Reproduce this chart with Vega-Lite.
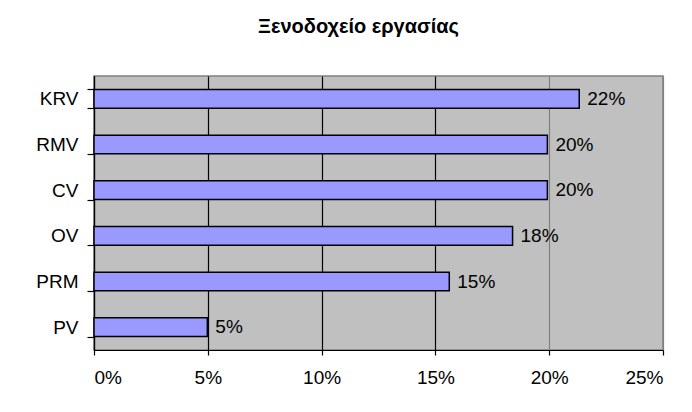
{
  "$schema": "https://vega.github.io/schema/vega-lite/v6.json",
  "width": 569,
  "height": 274,
  "autosize": {"type": "none"},
  "padding": {"left": 94, "top": 76, "right": 29, "bottom": 62},
  "background": "white",
  "title": {
    "text": "Ξενοδοχείο εργασίας",
    "font": "Liberation Sans",
    "fontSize": 20,
    "fontWeight": "bold",
    "color": "black",
    "anchor": "middle",
    "dx": -20,
    "offset": 30
  },
  "config": {
    "view": {"fill": "#C0C0C0", "stroke": "#808080", "strokeWidth": 1.5},
    "axis": {"labelFont": "Liberation Sans", "labelFontSize": 19, "labelColor": "black"}
  },
  "data": {
    "values": [
      {"cat": "KRV", "value": 0.2132, "label": "22%"},
      {"cat": "RMV", "value": 0.1992, "label": "20%"},
      {"cat": "CV", "value": 0.1992, "label": "20%"},
      {"cat": "OV", "value": 0.1839, "label": "18%"},
      {"cat": "PRM", "value": 0.1561, "label": "15%"},
      {"cat": "PV", "value": 0.0498, "label": "5%"}
    ]
  },
  "encoding": {
    "y": {
      "field": "cat",
      "type": "nominal",
      "sort": null,
      "title": null,
      "scale": {"paddingInner": 0.59, "paddingOuter": 0.295},
      "axis": {
        "tickBand": "extent",
        "tickSize": 7,
        "tickColor": "black",
        "tickWidth": 1.2,
        "domainColor": "black",
        "domainWidth": 1.2,
        "labelPadding": 9,
        "grid": false
      }
    },
    "x": {
      "field": "value",
      "type": "quantitative",
      "title": null,
      "scale": {"domain": [0, 0.25], "nice": false},
      "axis": {
        "values": [0, 0.05, 0.1, 0.15, 0.2, 0.25],
        "format": ".0%",
        "tickSize": 5,
        "tickColor": "black",
        "tickWidth": 1.2,
        "domainColor": "black",
        "domainWidth": 1.2,
        "labelPadding": 13,
        "grid": true,
        "gridColor": {"condition": {"test": "datum.value > 0.19", "value": "#808080"}, "value": "black"},
        "gridWidth": 1.2,
        "gridOpacity": 1
      }
    }
  },
  "layer": [
    {
      "mark": {"type": "bar", "color": "#9999FF", "stroke": "black", "strokeWidth": 1.5}
    },
    {
      "mark": {"type": "text", "align": "left", "baseline": "middle", "dx": 8, "font": "Liberation Sans", "fontSize": 19, "color": "black"},
      "encoding": {"text": {"field": "label"}}
    }
  ]
}
